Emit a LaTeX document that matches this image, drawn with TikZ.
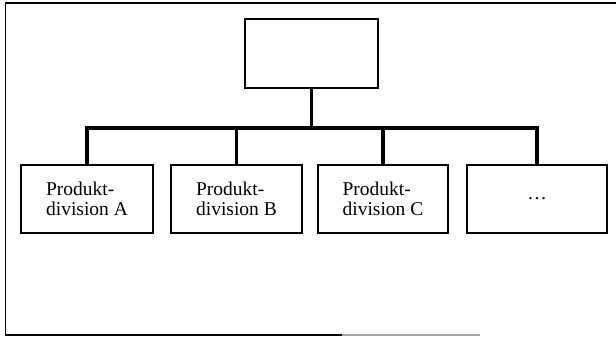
\documentclass[tikz,border=0pt]{standalone}
\usepackage{fontspec}
\setmainfont{Liberation Serif}
\tikzset{
  divbox/.style={draw, line width=1.6pt, inner sep=0pt, minimum height=68pt, align=left,
    font=\fontsize{19.5}{20}\selectfont},
  conn/.style={line width=3.4pt}
}
\begin{document}
\begin{tikzpicture}[x=1pt, y=-1pt]
    \useasboundingbox (0,0) rectangle (616,338);

    % frame
    \draw[line width=1.8pt] (616,3) -- (5.5,3) -- (5.5,335) -- (342,335);
    \draw[line width=1.8pt, black!35] (342,335) -- (480,335);

    % top box
    \node[divbox, minimum width=133pt, minimum height=69pt] (top) at (311.5,53.5) {};

    % divisions
    \node[divbox, minimum width=132pt] (divA) at (87,199) {Produkt-\\division A};
    \node[divbox, minimum width=131pt] (divB) at (236.5,199) {Produkt-\\division B};
    \node[divbox, minimum width=130pt] (divC) at (383,199) {Produkt-\\division C};
    \node[divbox, minimum width=140pt] (divD) at (537,199) {\dots};

    % connectors
    \coordinate (bus) at (311.5,128);
    \draw[conn] (top.south) -- (bus);
    \draw[conn] (divA.north) |- (bus);
    \draw[conn] (divD.north) |- (bus);
    \draw[conn] (divB.north) -- (divB.north |- bus);
    \draw[conn] (divC.north) -- (divC.north |- bus);
\end{tikzpicture}
\end{document}
